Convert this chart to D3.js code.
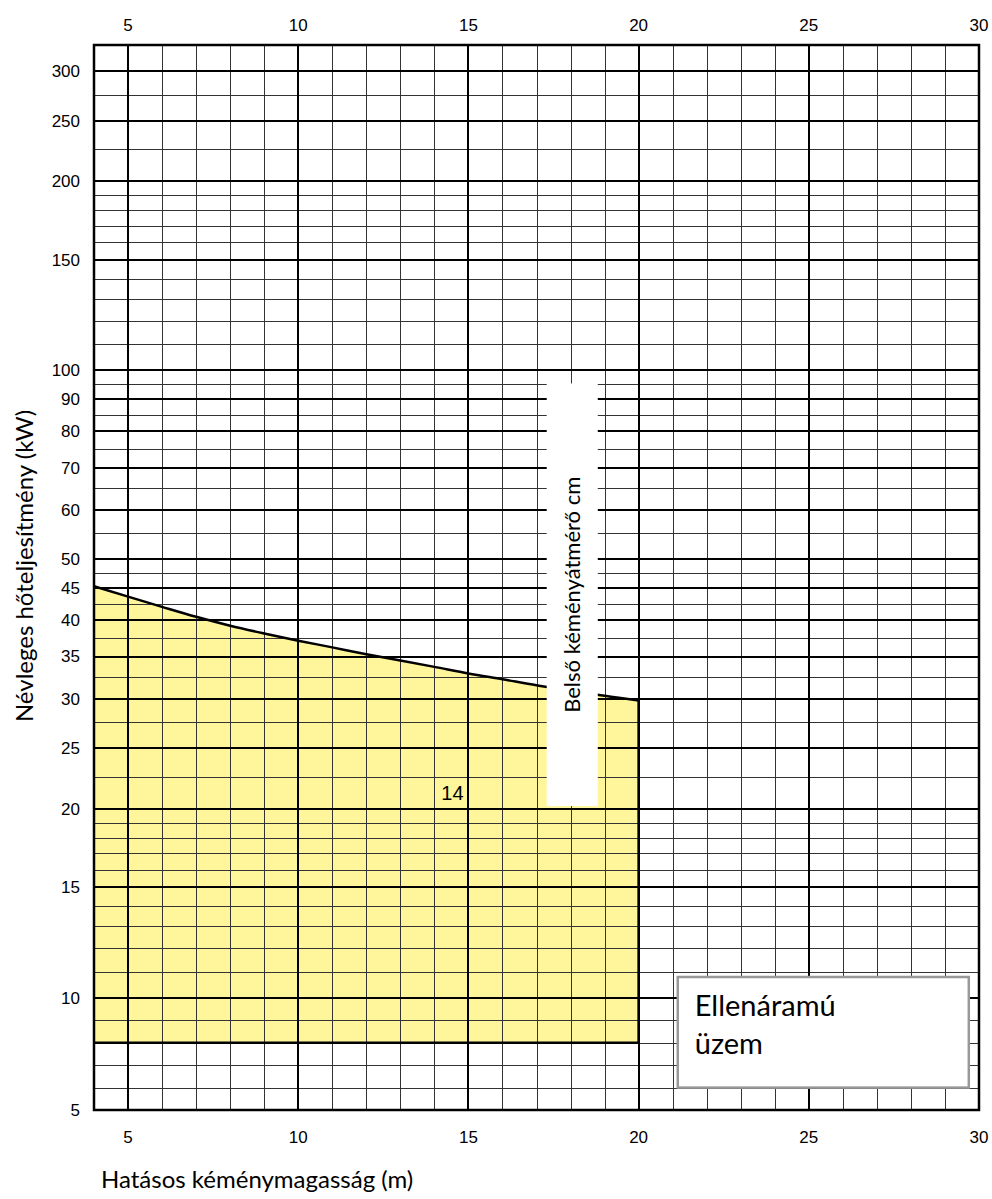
<!DOCTYPE html>
<html>
<head>
<meta charset="utf-8">
<script src="https://cdn.jsdelivr.net/npm/d3@7/dist/d3.min.js"></script>
<style>
  html, body { margin: 0; padding: 0; background: #fff; }
  svg { display: block; }
</style>
</head>
<body>
<script>
// ---------- data ----------
const heights = [4, 5, 6, 7, 8, 9, 10, 11, 12, 13, 14, 15, 16, 17, 18, 19, 20];      // m
const power14 = [45.3, 43.6, 42.0, 40.5, 39.2, 38.1, 37.1, 36.2, 35.3, 34.5, 33.7, 32.9, 32.2, 31.5, 30.9, 30.3, 29.8]; // kW
const minPower = 8;                       // lower limit of the 14 cm area
const diameterLabel = "14";
const xTicks = [5, 10, 15, 20, 25, 30];
const xMinor = [5, 6, 7, 8, 9, 10, 11, 12, 13, 14, 15, 16, 17, 18, 19, 20, 21, 22, 23, 24, 25, 26, 27, 28, 29];
const xMajor = [5, 10, 15, 20, 25];
const yMajor = [10, 15, 20, 25, 30, 35, 40, 45, 50, 60, 70, 80, 90, 100, 150, 200, 250, 300];
const yMinor = [6, 7, 8, 9, 11, 12, 13, 14, 16, 17, 18, 19, 22.5, 27.5, 32.5, 37.5, 42.5, 47.5,
                55, 65, 75, 85, 95, 110, 120, 130, 140, 160, 170, 180, 190, 225, 275];
const yTickLabels = [5, 10, 15, 20, 25, 30, 35, 40, 45, 50, 60, 70, 80, 90, 100, 150, 200, 250, 300];
const xTitle = "Hatásos kéménymagasság (m)";
const yTitle = "Névleges hőteljesítmény (kW)";
const boxTitle = "Belső kéményátmérő cm";
const noteLines = ["Ellenáramú", "üzem"];

// ---------- layout ----------
const W = 992, H = 1199;
const L = 94, R = 979, T = 45, B = 1110;
const Y10 = 998;

const x = d3.scaleLinear().domain([4, 30]).range([L, R]);
const yLog = d3.scaleLog().domain([10, 330]).range([Y10, T]);
const yLow = d3.scaleLinear().domain([5, 10]).range([B, Y10]);
const y = v => (v >= 10 ? yLog(v) : yLow(v));

const svg = d3.select("body").append("svg").attr("width", W).attr("height", H);
svg.append("rect").attr("width", W).attr("height", H).attr("fill", "#fff");

const sans = "Lato, 'Open Sans', sans-serif";
const helv = "'Liberation Sans', Arial, Helvetica, sans-serif";

const series = heights.map((h, i) => ({ h, p: power14[i] }));

// ---------- yellow area ----------
const area = d3.area()
  .x(d => x(d.h)).y0(y(minPower)).y1(d => y(d.p))
  .curve(d3.curveMonotoneX);
svg.append("path").attr("d", area(series)).attr("fill", "#FFF59B").attr("stroke", "none");

// ---------- grid ----------
const g = svg.append("g").attr("shape-rendering", "crispEdges");
const snap = v => Math.round(v) + 0.5;

g.selectAll("line.ymin").data(yMinor).join("line")
  .attr("x1", L).attr("x2", R)
  .attr("y1", d => snap(y(d))).attr("y2", d => snap(y(d)))
  .attr("stroke", "#333").attr("stroke-width", 1);

g.selectAll("line.xmin").data(xMinor.filter(v => !xMajor.includes(v))).join("line")
  .attr("y1", T).attr("y2", B)
  .attr("x1", d => snap(x(d))).attr("x2", d => snap(x(d)))
  .attr("stroke", "#333").attr("stroke-width", 1);

g.selectAll("line.ymaj").data(yMajor).join("line")
  .attr("x1", L).attr("x2", R)
  .attr("y1", d => Math.round(y(d))).attr("y2", d => Math.round(y(d)))
  .attr("stroke", "#000").attr("stroke-width", 2);

g.selectAll("line.xmaj").data(xMajor).join("line")
  .attr("y1", T).attr("y2", B)
  .attr("x1", d => Math.round(x(d))).attr("x2", d => Math.round(x(d)))
  .attr("stroke", "#000").attr("stroke-width", 2);

// ---------- area outline ----------
const topLine = d3.line().x(d => x(d.h)).y(d => y(d.p)).curve(d3.curveMonotoneX);
svg.append("path").attr("d", topLine(series))
  .attr("fill", "none").attr("stroke", "#000").attr("stroke-width", 2.5);
const last = series[series.length - 1];
svg.append("path")
  .attr("d", d3.line()([[x(last.h), y(last.p)], [x(last.h), y(minPower)], [x(heights[0]), y(minPower)]]))
  .attr("fill", "none").attr("stroke", "#000").attr("stroke-width", 2.5)
  .attr("stroke-linejoin", "miter");

// ---------- vertical white label box ----------
const bx0 = x(17.3), bx1 = x(18.8);
const by0 = y(100) + 13, by1 = y(20) - 3;
svg.append("rect").attr("x", bx0).attr("y", by0).attr("width", bx1 - bx0).attr("height", by1 - by0)
  .attr("fill", "#fff");
svg.append("text")
  .attr("transform", `translate(${(bx0 + bx1) / 2 + 8},${(by0 + by1) / 2}) rotate(-90)`)
  .attr("text-anchor", "middle")
  .attr("font-family", sans).attr("font-size", 22).attr("fill", "#000")
  .text(boxTitle);

// label "14"
svg.append("text").attr("x", x(14.5) + 1).attr("y", y(20) - 9)
  .attr("text-anchor", "middle").attr("font-family", helv).attr("font-size", 20).attr("fill", "#000")
  .text(diameterLabel);

// ---------- note box ----------
const nx0 = x(21.15), nx1 = x(29.7);
const ny0 = y(10) - 21, ny1 = y(6);
svg.append("rect").attr("x", nx0).attr("y", ny0).attr("width", nx1 - nx0).attr("height", ny1 - ny0)
  .attr("fill", "#fff").attr("stroke", "#999").attr("stroke-width", 2.5);
svg.append("text").attr("font-family", sans).attr("font-size", 29).attr("fill", "#000")
  .selectAll("tspan").data(noteLines).join("tspan")
  .attr("x", nx0 + 17).attr("y", (d, i) => ny0 + 39 + i * 38).text(d => d);

// ---------- frame ----------
svg.append("rect").attr("x", L).attr("y", T).attr("width", R - L).attr("height", B - T)
  .attr("fill", "none").attr("stroke", "#000").attr("stroke-width", 2.5);

// ---------- tick labels ----------
const axT = svg.append("g").attr("font-family", helv).attr("font-size", 17).attr("fill", "#000");
axT.selectAll("text.top").data(xTicks).join("text")
  .attr("x", d => x(d)).attr("y", 31).attr("text-anchor", "middle").text(d => d);
axT.selectAll("text.bot").data(xTicks).join("text")
  .attr("x", d => x(d)).attr("y", 1143).attr("text-anchor", "middle").text(d => d);
axT.selectAll("text.left").data(yTickLabels).join("text")
  .attr("x", 80).attr("y", d => y(d)).attr("dy", "0.35em").attr("text-anchor", "end").text(d => d);

// ---------- axis titles ----------
svg.append("text").attr("x", 101).attr("y", 1188)
  .attr("font-family", sans).attr("font-size", 24).attr("fill", "#000").text(xTitle);
svg.append("text")
  .attr("transform", `translate(33,566) rotate(-90)`)
  .attr("text-anchor", "middle")
  .attr("font-family", sans).attr("font-size", 24).attr("fill", "#000").text(yTitle);
</script>
</body>
</html>
